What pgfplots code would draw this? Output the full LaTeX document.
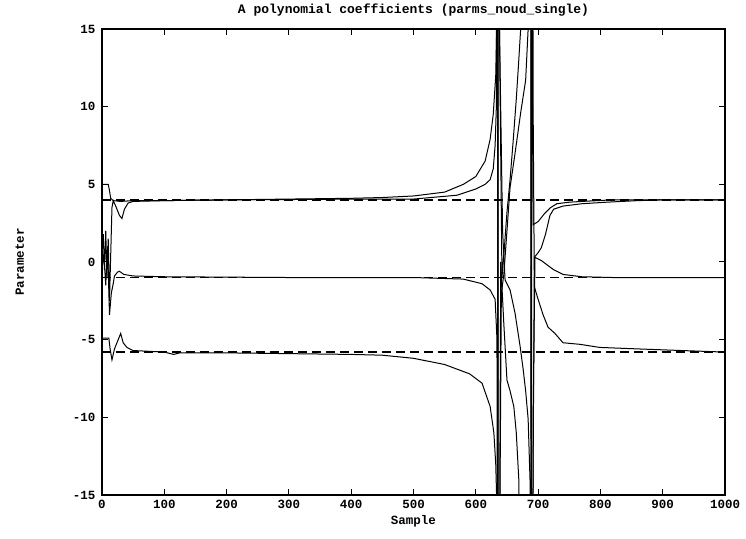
\documentclass[border=0pt]{standalone}
\usepackage{pgfplots}
\pgfplotsset{compat=1.18}
\usepackage{fontspec}
\setmainfont{Liberation Mono}
\setmonofont{Liberation Mono}

\begin{document}
\begin{tikzpicture}[x=1pt,y=1pt]
\path[use as bounding box] (-102,-43) rectangle (644,495);
\begin{axis}[
  at={(0,0)}, anchor=south west,
  scale only axis,
  width=623pt, height=466pt,
  xmin=0, xmax=1000, ymin=-15, ymax=15,
  xtick={0,100,...,1000},
  ytick={-15,-10,...,15},
  tick align=inside,
  major tick length=6pt,
  axis line style={line width=1.3pt},
  tick style={line width=1pt, black},
  every tick label/.style={font=\bfseries\fontsize{12.5}{14}\selectfont},
  /pgf/number format/assume math mode=true,
  /pgf/number format/1000 sep={},
  xticklabel style={yshift=-2pt},
  yticklabel style={xshift=-3pt},
  title={A polynomial coefficients (parms\_noud\_single)},
  title style={font=\bfseries\fontsize{13}{14}\selectfont, at={(axis description cs:0.5,1)}, anchor=south, yshift=3pt},
  xlabel={Sample},
  xlabel style={font=\bfseries\fontsize{12.5}{14}\selectfont, at={(axis description cs:0.5,0)}, anchor=north, yshift=-17pt},
  ylabel={Parameter},
  ylabel style={font=\bfseries\fontsize{12.5}{14}\selectfont, at={(axis description cs:-0.132,0.5)}, anchor=center, rotate=0},
  clip=true,
]
% true values (dashed)
\addplot[black, line width=1.4pt, dash pattern=on 9pt off 5pt] coordinates {(0,4.0) (1000,4.0)};
\addplot[black, line width=1.4pt, dash pattern=on 9pt off 5pt] coordinates {(0,-1.0) (1000,-1.0)};
\addplot[black, line width=1.4pt, dash pattern=on 9pt off 5pt] coordinates {(0,-5.8) (1000,-5.8)};
% estimate 1 (starts at 5)
\addplot[black, line width=1pt] coordinates {
(0,5.0) (10,5.0) (12,4.6) (14,4.1) (18,3.95) (30,3.9) (50,3.95) (100,3.95)
(150,3.98) (200,4.0) (300,4.05) (400,4.1) (450,4.15) (500,4.25) (550,4.5)
(580,5.0) (600,5.5) (615,6.5) (623,7.9) (628,9.5) (632,12) (634,16)
(635,60) (636,-60) (638,-20) (640,0) (645,-4) (650,-7.6) (655,-8.3)
(661,-9.3) (665,-11) (669,-14) (671,-20) (673,-60) (688,-60) (690,60)
(691,10) (692,2.4) (700,2.6) (710,3.1) (720,3.5) (730,3.75) (750,3.85)
(780,3.92) (820,4.0) (1000,4.0)};
% estimate 2 (V dip)
\addplot[black, line width=1pt] coordinates {
(0,0.5) (2,1.8) (4,-0.5) (6,2.0) (8,-1.0) (10,1.5) (12,-2.5) (14,0.5) (16,3.5)
(18,3.95) (22,3.6) (28,3.0) (32,2.8) (36,3.4) (42,3.8) (50,3.9) (100,3.95)
(200,4.0) (300,4.02) (400,4.05) (500,4.05) (570,4.3) (600,4.7) (615,5.0)
(623,5.3) (628,6.0) (631,7.5) (633,10) (635,60) (636,-60) (638,-20) (641,-2)
(645,-0.8) (650,2) (655,4.8) (663,7.0) (672,9.6) (680,11.7) (684,15) (686,25)
(688,60) (689,-60) (691,-20) (694,0.3) (700,0.6) (705,0.9) (712,1.8) (719,3.0)
(725,3.4) (740,3.6) (770,3.75) (810,3.85) (860,3.95) (900,4.0) (1000,4.0)};
% estimate 3 (middle)
\addplot[black, line width=1pt] coordinates {
(0,-0.5) (3,0.5) (6,-1.5) (9,1.0) (12,-3.4) (15,-2.0) (18,-1.4) (20,-0.9)
(25,-0.65) (28,-0.6) (35,-0.8) (50,-0.9) (100,-0.95) (300,-1.0) (500,-1.0)
(580,-1.1) (610,-1.4) (623,-1.8) (631,-2.4) (634,-5) (635,-60) (636,60)
(638,15) (642,-1) (646,1) (650,3.2) (655,5.3) (660,7.8) (665,10.5) (669,13)
(672,15) (674,30) (676,60) (688,60) (690,-60) (692,-10) (695,0.3) (705,0.1)
(715,-0.2) (725,-0.5) (740,-0.8) (770,-0.95) (820,-1.0) (1000,-1.0)};
% estimate 4 (bottom)
\addplot[black, line width=1pt] coordinates {
(0,-4.9) (4,-4.9) (11,-4.9) (13,-5.6) (16,-6.3) (20,-5.6) (26,-5.0) (30,-4.6)
(34,-5.2) (40,-5.5) (50,-5.7) (100,-5.8) (115,-5.95) (125,-5.85) (200,-5.85)
(300,-5.9) (400,-5.95) (450,-6.0) (500,-6.2) (550,-6.6) (590,-7.2) (610,-7.8)
(623,-9.3) (629,-11) (632,-13) (634,-16) (635,-60) (636,60) (638,15)
(643,2) (647,-1.16) (655,-1.8) (663,-3.3) (671,-5.4) (676,-6.9) (680,-8.3)
(684,-10.1) (687,-14) (688,-30) (689,-60) (690,60) (692,10) (694,-1.6)
(700,-2.4) (708,-3.4) (716,-4.2) (727,-4.6) (740,-5.2) (767,-5.3) (799,-5.5)
(863,-5.6) (930,-5.7) (1000,-5.8)};
\end{axis}
\end{tikzpicture}
\end{document}
